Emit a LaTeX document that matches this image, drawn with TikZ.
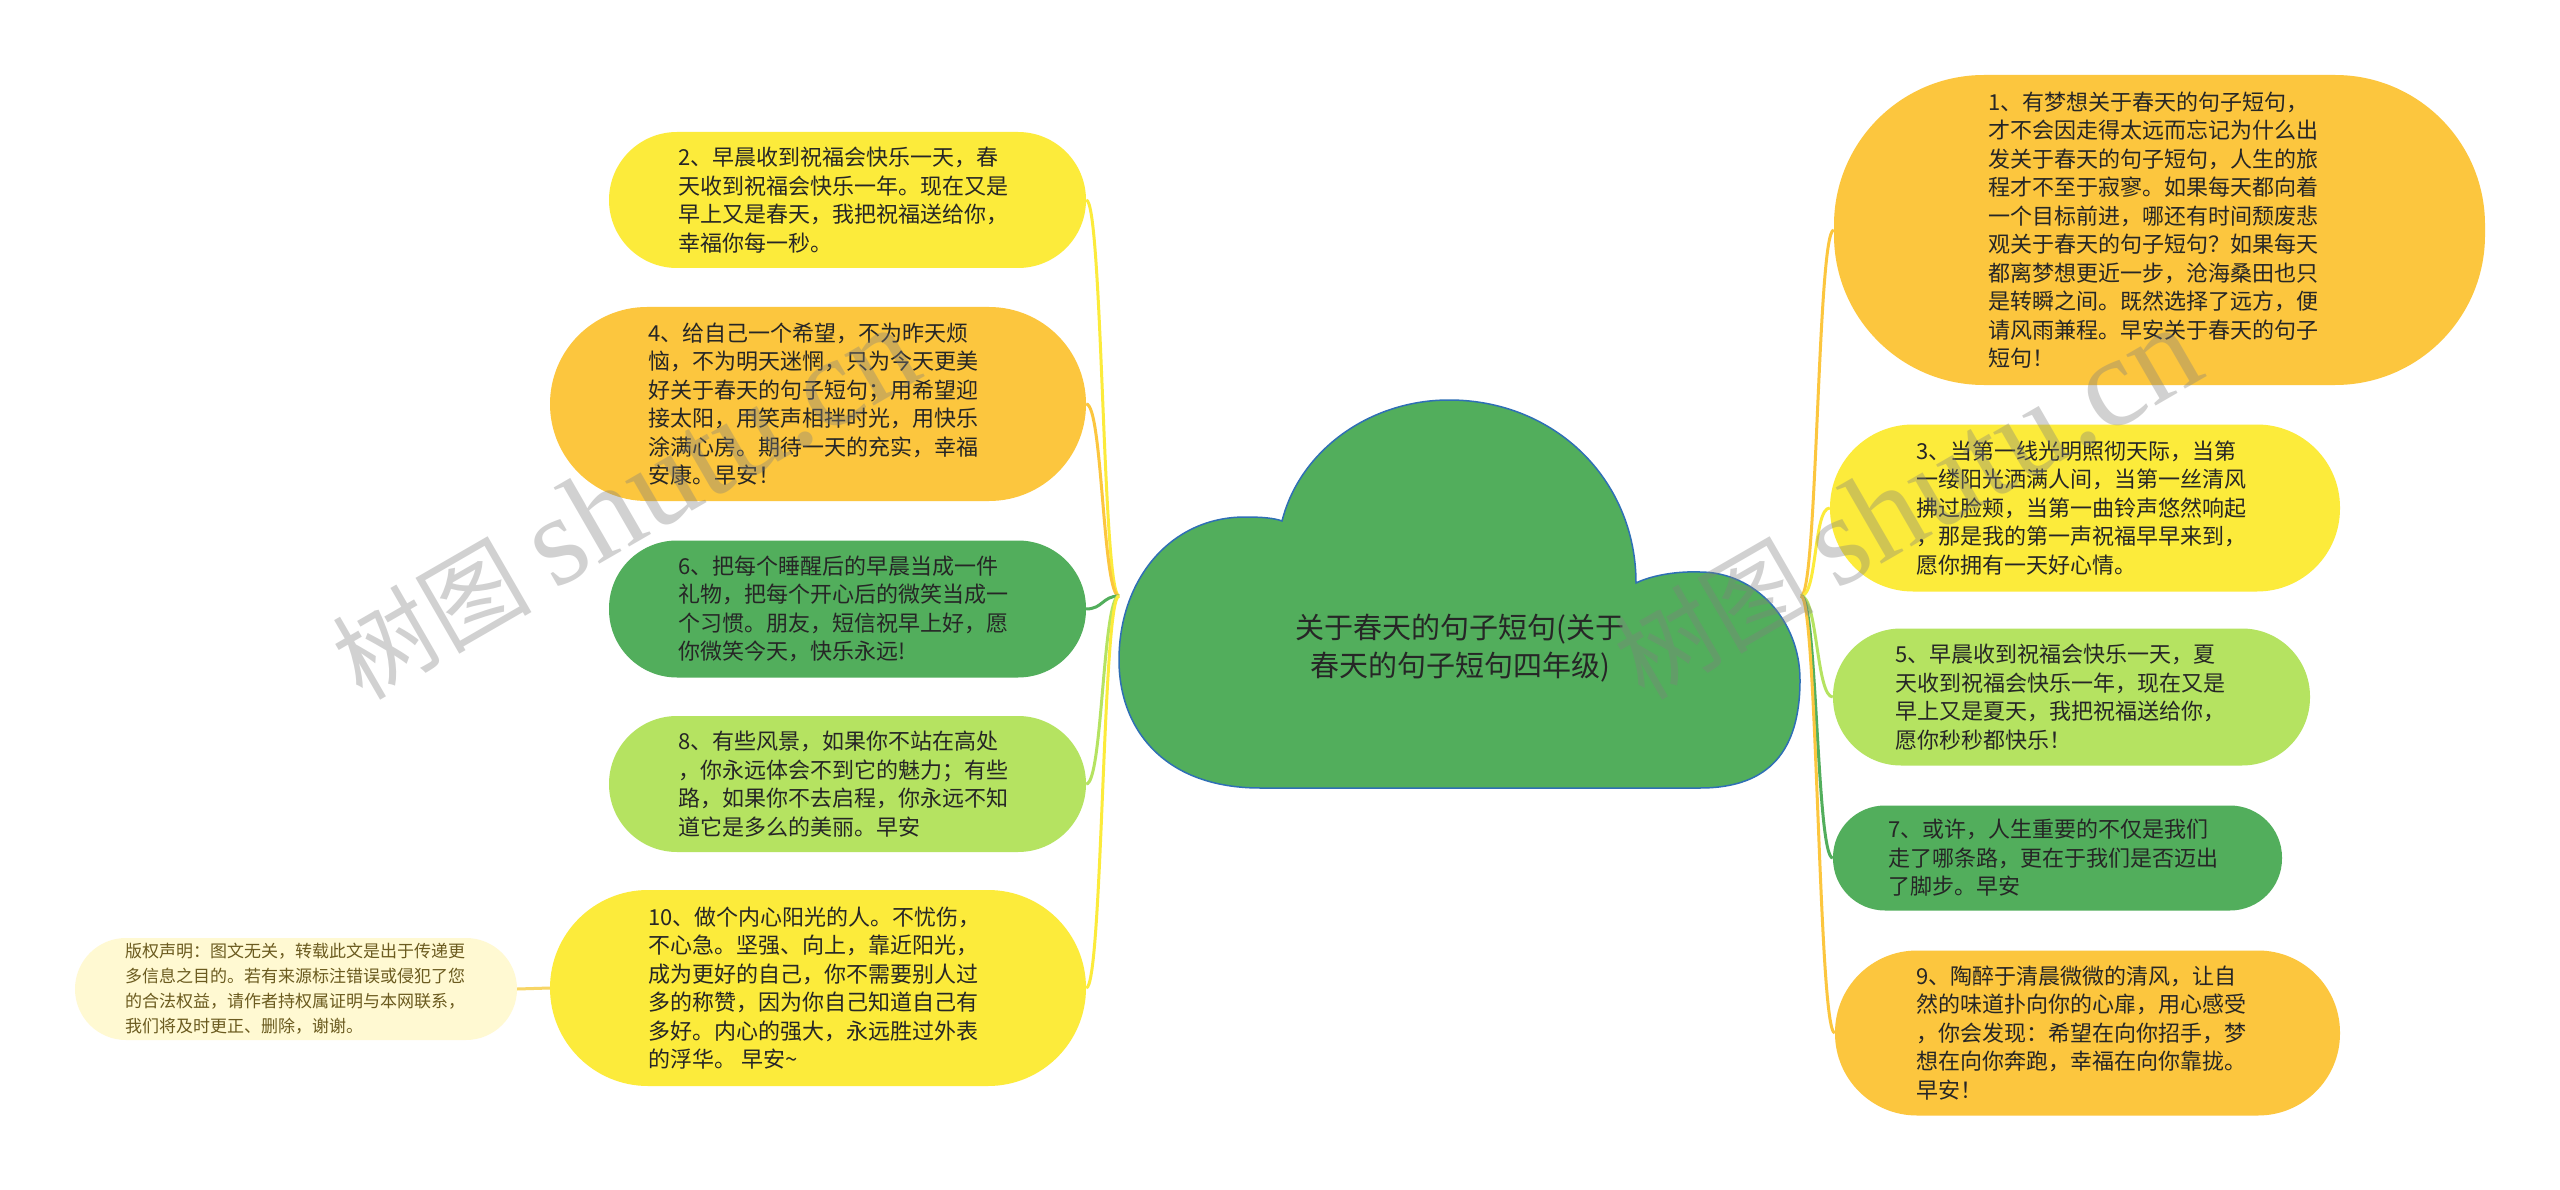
\documentclass[tikz,border=0pt]{standalone}
\usepackage{fontspec}
\setmainfont{Noto Sans CJK SC}
\newfontfamily\wmlat{Liberation Serif}
\definecolor{cY}{HTML}{FCEB3B}
\definecolor{cO}{HTML}{FCC63E}
\definecolor{cG}{HTML}{52AE5C}
\definecolor{cL}{HTML}{B5E361}
\definecolor{cC}{HTML}{FFF9D2}
\definecolor{cCline}{HTML}{F7D565}
\definecolor{cCtxt}{HTML}{6B5B1F}
\definecolor{cBorder}{HTML}{2F6FB5}
\definecolor{txt}{HTML}{262626}
\begin{document}
\begin{tikzpicture}[x=1pt,y=-1pt,
  pill/.style n args={4}{draw=none, fill=#1, rectangle, inner sep=0pt,
    minimum width=#2, minimum height=#3, rounded corners=#4},
  body/.style={align=left, inner sep=0pt, anchor=west, text=txt,
    font=\fontsize{22}{28.5}\selectfont},
  conn/.style={draw=#1, line width=3pt},
  wm/.style={inner sep=0pt, anchor=base west, rotate=30, text=gray, text opacity=0.36}]
\useasboundingbox (0,0) rectangle (2560,1190);
\fill[white] (0,0) rectangle (2560,1190);

% root cloud
\draw[fill=cG, draw=cBorder, line width=1.5pt] (1260,788)
  .. controls (1165,788) and (1119,730) .. (1119,660)
  .. controls (1119,580) and (1170,517) .. (1245,517)
  .. controls (1262,517) and (1274,518) .. (1282,521)
  .. controls (1300,450) and (1370,400) .. (1449,400)
  .. controls (1555,400) and (1636,480) .. (1636,583)
  .. controls (1650,576) and (1675,571) .. (1700,572)
  .. controls (1755,572) and (1800,620) .. (1800,680)
  .. controls (1800,750) and (1770,788) .. (1700,788)
  -- cycle;
\node[align=center, inner sep=0pt, text=txt, font=\fontsize{29}{38}\selectfont] (title) at (1460,648)
  {关于春天的句子短句(关于\\春天的句子短句四年级)};
\coordinate (rootL) at (1119,596);
\coordinate (rootR) at (1801,596);

% left boxes
\node[pill={cY}{477}{136}{68}] (n2) at (847.5,200) {};
\node[body] (t2) at (678,200) {2、早晨收到祝福会快乐一天，春\\天收到祝福会快乐一年。现在又是\\早上又是春天，我把祝福送给你，\\幸福你每一秒。};
\node[pill={cO}{536}{194}{97}] (n4) at (818,404) {};
\node[body] (t4) at (648,404) {4、给自己一个希望，不为昨天烦\\恼，不为明天迷惘，只为今天更美\\好关于春天的句子短句；用希望迎\\接太阳，用笑声相拌时光，用快乐\\涂满心房。期待一天的充实，幸福\\安康。早安！};
\node[pill={cG}{477}{137}{68}] (n6) at (847.5,609) {};
\node[body] (t6) at (678,609) {6、把每个睡醒后的早晨当成一件\\礼物，把每个开心后的微笑当成一\\个习惯。朋友，短信祝早上好，愿\\你微笑今天，快乐永远!};
\node[pill={cL}{477}{136}{68}] (n8) at (847.5,784) {};
\node[body] (t8) at (678,784) {8、有些风景，如果你不站在高处\\，你永远体会不到它的魅力；有些\\路，如果你不去启程，你永远不知\\道它是多么的美丽。早安};
\node[pill={cY}{536}{196}{98}] (n10) at (818,988) {};
\node[body] (t10) at (648,988) {10、做个内心阳光的人。不忧伤，\\不心急。坚强、向上，靠近阳光，\\成为更好的自己，你不需要别人过\\多的称赞，因为你自己知道自己有\\多好。内心的强大，永远胜过外表\\的浮华。 早安\textasciitilde};
\node[pill={cC}{442}{102}{51}] (ncopy) at (296,989) {};
\node[body, text=cCtxt, font=\fontsize{17}{25}\selectfont] (tcopy) at (125,989) {版权声明：图文无关，转载此文是出于传递更\\多信息之目的。若有来源标注错误或侵犯了您\\的合法权益，请作者持权属证明与本网联系，\\我们将及时更正、删除，谢谢。};

% right boxes
\node[pill={cO}{651}{310}{150}] (n1) at (2159.5,230) {};
\node[body] (t1) at (1988,230) {1、有梦想关于春天的句子短句，\\才不会因走得太远而忘记为什么出\\发关于春天的句子短句，人生的旅\\程才不至于寂寥。如果每天都向着\\一个目标前进，哪还有时间颓废悲\\观关于春天的句子短句？如果每天\\都离梦想更近一步，沧海桑田也只\\是转瞬之间。既然选择了远方，便\\请风雨兼程。早安关于春天的句子\\短句！};
\node[pill={cY}{510}{167}{83}] (n3) at (2085,508) {};
\node[body] (t3) at (1916,508) {3、当第一线光明照彻天际，当第\\一缕阳光洒满人间，当第一丝清风\\拂过脸颊，当第一曲铃声悠然响起\\，那是我的第一声祝福早早来到，\\愿你拥有一天好心情。};
\node[pill={cL}{477}{137}{68}] (n5) at (2071.5,697) {};
\node[body] (t5) at (1895,697) {5、早晨收到祝福会快乐一天，夏\\天收到祝福会快乐一年，现在又是\\早上又是夏天，我把祝福送给你，\\愿你秒秒都快乐！};
\node[pill={cG}{449}{105}{52}] (n7) at (2057.5,858) {};
\node[body] (t7) at (1888,858) {7、或许，人生重要的不仅是我们\\走了哪条路，更在于我们是否迈出\\了脚步。早安};
\node[pill={cO}{505}{165}{82}] (n9) at (2087.5,1033) {};
\node[body] (t9) at (1916,1033) {9、陶醉于清晨微微的清风，让自\\然的味道扑向你的心扉，用心感受\\，你会发现：希望在向你招手，梦\\想在向你奔跑，幸福在向你靠拢。\\早安！};

% connectors
\draw[conn=cY] (rootL) .. controls +(-16.5,0) and +(16.5,0) .. (n2.east);
\draw[conn=cO] (rootL) .. controls +(-16.5,0) and +(16.5,0) .. (n4.east);
\draw[conn=cG] (rootL) .. controls +(-16.5,0) and +(16.5,0) .. (n6.east);
\draw[conn=cL] (rootL) .. controls +(-16.5,0) and +(16.5,0) .. (n8.east);
\draw[conn=cY] (rootL) .. controls +(-16.5,0) and +(16.5,0) .. (n10.east);
\draw[conn=cO] (rootR) .. controls +(16.5,0) and +(-16.5,0) .. (n1.west);
\draw[conn=cY] (rootR) .. controls +(16.5,0) and +(-16.5,0) .. (n3.west);
\draw[conn=cL] (rootR) .. controls +(16.5,0) and +(-16.5,0) .. (n5.west);
\draw[conn=cG] (rootR) .. controls +(16.5,0) and +(-16.5,0) .. (n7.west);
\draw[conn=cO] (rootR) .. controls +(16.5,0) and +(-16.5,0) .. (n9.west);
\draw[conn=cCline] (n10.west) -- (ncopy.east);

% watermarks
\node[wm] (wm1) at (362,702) {\fontsize{100}{100}\selectfont 树图 {\wmlat\fontsize{128}{128}\selectfont shutu.cn}};
\node[wm] (wm2) at (1644,702) {\fontsize{100}{100}\selectfont 树图 {\wmlat\fontsize{128}{128}\selectfont shutu.cn}};
\end{tikzpicture}
\end{document}
